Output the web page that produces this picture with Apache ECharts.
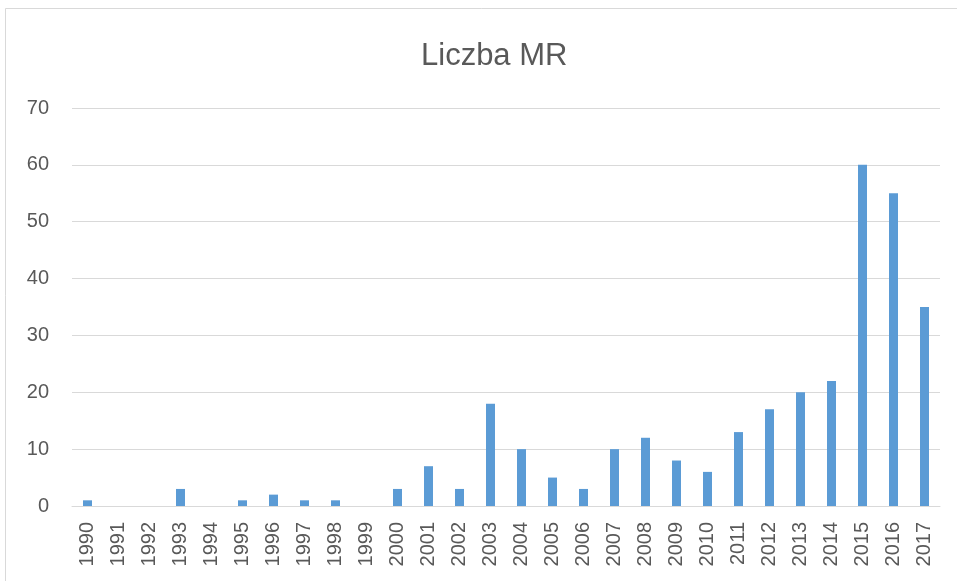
<!DOCTYPE html>
<html><head><meta charset="utf-8">
<script src="https://cdn.jsdelivr.net/npm/echarts@6/dist/echarts.min.js"></script>
<style>html,body{margin:0;padding:0;background:#fff}#c{width:957px;height:581px}</style>
</head><body><div id="c"></div>
<script>
const categories = ['1990','1991','1992','1993','1994','1995','1996','1997','1998','1999','2000','2001','2002','2003','2004','2005','2006','2007','2008','2009','2010','2011','2012','2013','2014','2015','2016','2017'];
const values = [1,0,0,3,0,1,2,1,1,0,3,7,3,18,10,5,3,10,12,8,6,13,17,20,22,60,55,35];
const yTicks = [0,10,20,30,40,50,60,70];
const titleText = 'Liczba MR';

const chart = echarts.init(document.getElementById('c'), null, {renderer:'canvas'});
chart.setOption({
  animation:false,
  backgroundColor:'#fff',
  graphic:[{type:'rect',shape:{x:5.5,y:8.5,width:960,height:580},style:{fill:'none',stroke:'#d9d9d9',lineWidth:1},silent:true}],
  title:{text:titleText,left:416,top:36,textStyle:{fontFamily:'Liberation Sans',fontSize:31,fontWeight:'normal',color:'#595959'}},
  grid:{left:72,right:17,top:108,bottom:75},
  xAxis:{type:'category',data:categories,
    axisLine:{lineStyle:{color:'#d9d9d9'}},axisTick:{show:false},
    axisLabel:{rotate:90,interval:0,color:'#595959',fontFamily:'Liberation Sans',fontSize:20,margin:16}},
  yAxis:{type:'value',min:yTicks[0],max:yTicks[yTicks.length-1],interval:10,
    axisLine:{show:false},axisTick:{show:false},
    splitLine:{lineStyle:{color:'#d9d9d9'}},
    axisLabel:{color:'#595959',fontFamily:'Liberation Sans',fontSize:20,margin:23}},
  series:[{type:'bar',data:values,barWidth:9,itemStyle:{color:'#5b9bd5'}}]
});
</script></body></html>
